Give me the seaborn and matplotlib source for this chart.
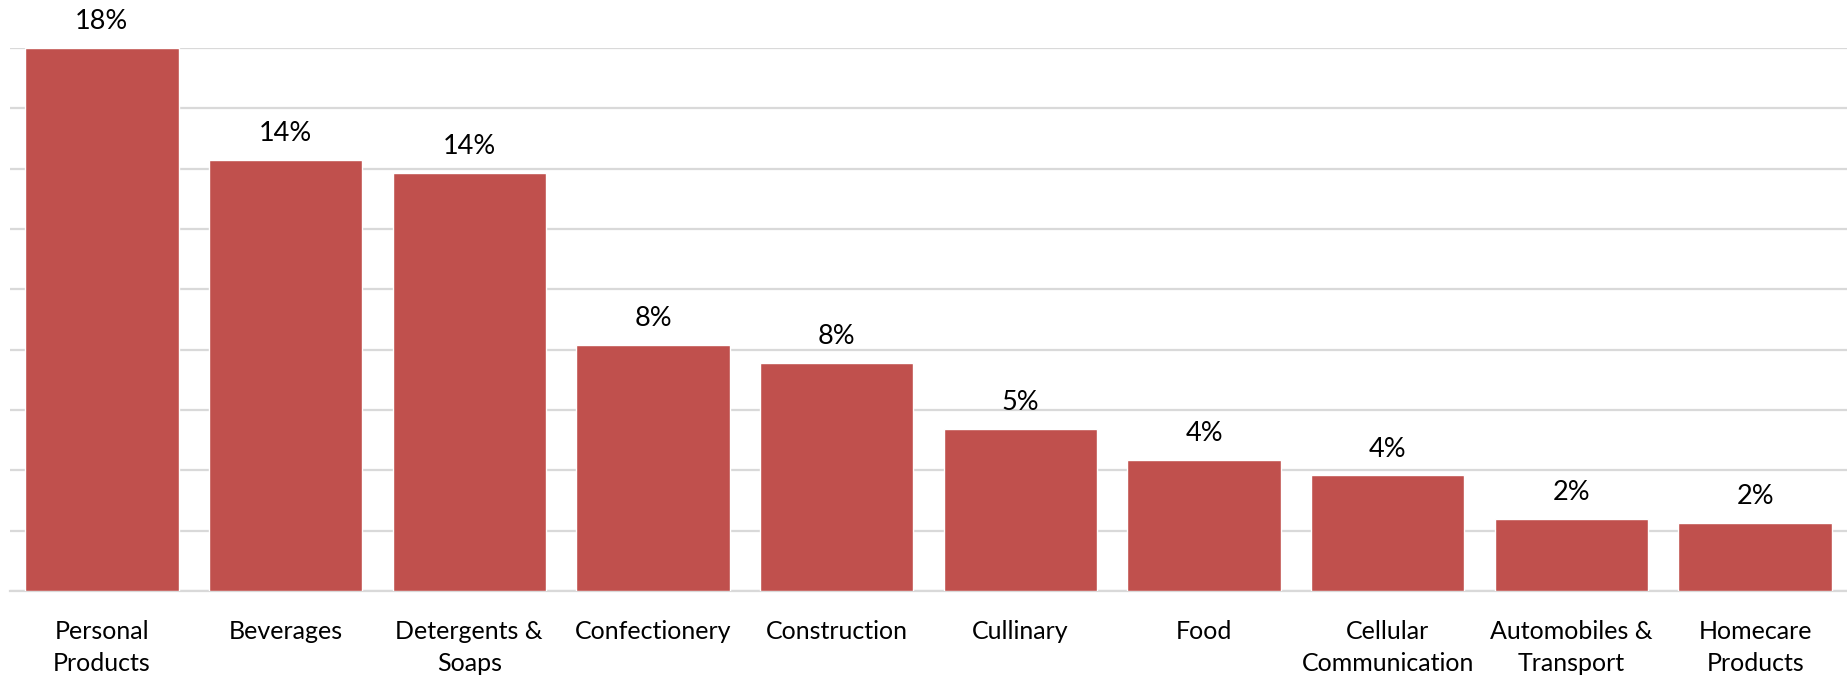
import matplotlib
matplotlib.use("Agg")
import matplotlib.pyplot as plt
import seaborn as sns
import pandas as pd

categories = ["Personal\nProducts", "Beverages", "Detergents &\nSoaps", "Confectionery",
              "Construction", "Cullinary", "Food", "Cellular\nCommunication",
              "Automobiles &\nTransport", "Homecare\nProducts"]
values = [18.0, 14.3, 13.87, 8.15, 7.56, 5.36, 4.34, 3.83, 2.40, 2.27]

df = pd.DataFrame({"category": categories, "value": values})

sns.set_theme(style="white")
plt.rcParams['font.family'] = ['Lato', 'DejaVu Sans']

fig = plt.figure(figsize=(18.47, 6.79), dpi=100)
ax = fig.add_axes([10 / 1847, 88 / 679, 1 - 10 / 1847, (591 - 48) / 679])

sns.barplot(data=df, x="category", y="value", color="#C0504D", saturation=1,
            width=0.835, ax=ax, zorder=3)

ax.set_ylim(0, 18)
ax.set_xlim(-0.5, len(categories) - 0.5)
ax.set_yticks(range(0, 19, 2))
ax.yaxis.grid(True, color="#d9d9d9", linewidth=1.6, zorder=0)
ax.set_axisbelow(True)
ax.tick_params(axis="y", left=False, labelleft=False)
ax.tick_params(axis="x", bottom=False, labelsize=18, colors="#000000", pad=15)
for lbl in ax.get_xticklabels():
    lbl.set_linespacing(1.45)
for s in ["top", "right", "left"]:
    ax.spines[s].set_visible(False)
ax.spines["bottom"].set_color("#d9d9d9")
ax.spines["bottom"].set_linewidth(1.6)
ax.set_xlabel("")
ax.set_ylabel("")

for i, v in enumerate(values):
    ax.annotate(f"{round(v):.0f}%", xy=(i, v), xytext=(0, 19), textcoords="offset points",
                ha="center", va="center", fontsize=19.5, color="#000000", clip_on=False)

fig.savefig("out.png", dpi=100)
